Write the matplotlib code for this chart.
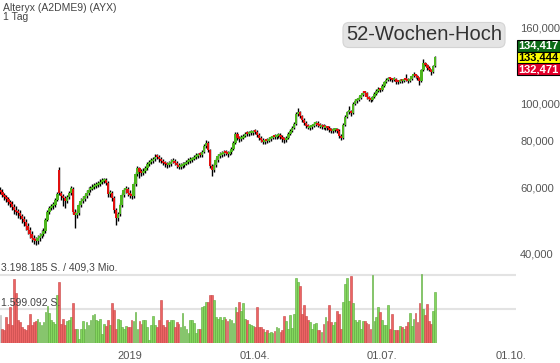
import matplotlib.pyplot as plt
import numpy as np
import pandas as pd
from matplotlib.ticker import FixedLocator, NullLocator

plt.rcParams['font.family'] = ['Liberation Sans', 'DejaVu Sans']

# daily candles, Alteryx, 01.10.2018 - 08.08.2019
opens = [59.0, 58.3, 57.2, 56.5, 55.8, 54.8, 54.1, 53.2, 52.2, 51.6,
         51.2, 50.3, 49.4, 48.5, 47.3, 46.2, 45.1, 43.9, 43.4, 43.1,
         43.9, 44.5, 45.1, 45.9, 49.1, 51.6, 52.8, 53.3, 53.8, 55.5,
         66.5, 57.9, 56.8, 56.2, 55.2, 56.5, 57.9, 59.5, 51.6, 50.6,
         51.2, 53.8, 55.2, 55.8, 56.8, 57.9, 59.0, 59.4, 60.1, 60.5,
         60.8, 61.2, 62.0, 62.3, 62.7, 61.6, 57.5, 57.9, 56.2, 52.2,
         49.7, 50.9, 53.8, 57.2, 59.0, 59.4, 57.9, 57.2, 56.8, 61.2,
         65.1, 67.5, 66.0, 65.6, 66.3, 67.5, 69.2, 69.9, 70.5, 71.3,
         72.6, 72.2, 71.3, 70.5, 69.7, 69.2, 68.8, 69.2, 70.1, 70.5,
         69.7, 68.8, 68.0, 68.4, 68.8, 69.2, 70.1, 70.5, 70.9, 71.3,
         72.2, 72.7, 73.5, 73.1, 74.4, 77.3, 78.8, 75.4, 68.4, 66.7,
         68.8, 70.9, 72.7, 73.1, 73.6, 74.4, 74.0, 73.6, 74.4, 75.9,
         78.8, 83.2, 81.2, 80.7, 81.2, 82.2, 83.6, 83.2, 83.5, 83.7,
         84.6, 84.2, 82.7, 81.2, 80.2, 79.2, 80.1, 79.7, 80.7, 81.2,
         82.1, 81.7, 82.2, 82.7, 81.7, 80.7, 80.2, 81.2, 83.2, 84.8,
         86.3, 88.4, 94.1, 95.2, 92.9, 90.6, 89.0, 87.4, 86.4, 86.8,
         87.4, 88.4, 89.0, 87.9, 87.0, 87.4, 86.4, 86.8, 86.3, 85.3,
         84.8, 85.0, 85.3, 84.8, 82.2, 81.2, 87.9, 92.4, 95.2, 95.8,
         94.6, 99.9, 101.9, 102.5, 103.7, 105.7, 107.6, 107.0, 104.4, 103.1,
         102.5, 104.4, 106.3, 108.3, 109.6, 109.0, 111.7, 114.4, 115.9, 117.2,
         116.6, 115.9, 116.6, 114.9, 114.4, 115.6, 115.1, 116.4, 115.9, 115.1,
         116.6, 118.8, 119.5, 118.8, 117.3, 115.1, 123.2, 128.6, 127.0, 124.7,
         123.2, 121.7, 126.2]
closes = [58.3, 57.2, 56.5, 55.8, 54.8, 54.1, 53.2, 52.2, 51.6, 51.2,
          50.3, 49.4, 48.5, 47.3, 46.2, 45.1, 43.9, 43.4, 43.1, 43.9,
          44.5, 45.1, 45.9, 49.1, 51.6, 52.8, 53.3, 53.8, 55.5, 57.5,
          57.9, 56.8, 56.2, 55.2, 56.5, 57.9, 59.7, 51.6, 50.6, 51.2,
          53.8, 55.2, 55.8, 56.8, 57.9, 59.0, 59.4, 60.1, 60.5, 60.8,
          61.2, 62.0, 62.3, 62.7, 61.6, 57.5, 57.9, 56.2, 52.2, 49.7,
          50.9, 53.8, 57.2, 59.0, 59.4, 57.9, 57.2, 56.8, 61.2, 65.1,
          67.5, 66.0, 65.6, 66.3, 67.5, 69.2, 69.9, 70.5, 71.3, 72.2,
          72.2, 71.3, 70.5, 69.7, 69.2, 68.8, 69.2, 70.1, 70.5, 69.7,
          68.8, 68.0, 68.4, 68.8, 69.2, 70.1, 70.5, 70.9, 71.3, 72.2,
          72.7, 73.1, 73.1, 74.4, 77.3, 78.8, 75.4, 68.4, 66.7, 68.8,
          70.9, 72.7, 73.1, 73.6, 74.4, 74.0, 73.6, 74.4, 75.9, 78.8,
          83.2, 81.2, 80.7, 81.2, 82.2, 83.2, 83.2, 83.5, 83.7, 84.2,
          84.2, 82.7, 81.2, 80.2, 79.2, 79.7, 79.7, 80.7, 81.2, 81.7,
          81.7, 82.2, 82.7, 81.7, 80.7, 80.2, 81.2, 83.2, 84.8, 86.3,
          88.4, 94.1, 95.2, 92.9, 90.6, 89.0, 87.4, 86.8, 86.8, 87.4,
          88.4, 89.0, 87.9, 87.4, 87.4, 86.8, 86.8, 86.3, 85.3, 84.8,
          85.0, 85.3, 84.8, 82.2, 81.2, 87.9, 92.4, 95.2, 95.8, 94.6,
          99.9, 101.9, 102.5, 103.7, 105.7, 107.0, 107.0, 104.4, 103.1, 102.5,
          104.4, 106.3, 108.3, 109.6, 109.0, 111.7, 114.4, 115.9, 116.6, 116.6,
          115.9, 116.6, 114.4, 114.4, 115.1, 115.1, 115.9, 115.9, 115.1, 116.6,
          118.8, 119.5, 118.8, 117.3, 115.1, 123.2, 128.6, 127.0, 124.7, 123.2,
          121.7, 126.2, 133.4]
highs = [60.0, 59.2, 58.0, 57.3, 56.4, 55.6, 55.0, 54.1, 53.3, 52.4,
         52.0, 51.0, 50.3, 49.2, 48.1, 47.0, 45.8, 44.8, 44.2, 44.6,
         45.3, 46.0, 46.8, 49.8, 52.3, 53.6, 54.2, 54.8, 56.3, 58.4,
         67.8, 58.6, 57.6, 57.0, 57.3, 58.7, 60.6, 60.2, 52.4, 52.0,
         54.5, 56.0, 56.7, 57.6, 58.8, 59.9, 60.5, 61.0, 61.4, 61.9,
         62.3, 62.9, 63.4, 63.6, 63.5, 62.3, 58.9, 58.6, 56.9, 52.9,
         51.6, 54.5, 57.9, 59.8, 60.3, 60.0, 58.8, 58.0, 61.9, 65.9,
         68.4, 68.1, 66.9, 67.3, 68.3, 70.1, 70.8, 71.6, 72.3, 73.4,
         73.5, 73.0, 72.1, 71.5, 70.6, 70.1, 70.3, 71.2, 71.6, 71.3,
         70.4, 69.6, 69.5, 69.9, 70.2, 71.0, 71.7, 72.0, 72.4, 73.1,
         73.8, 74.2, 74.6, 75.4, 78.2, 80.2, 79.9, 76.0, 69.2, 69.7,
         71.8, 73.5, 74.3, 74.8, 75.3, 75.6, 75.1, 75.6, 76.8, 79.6,
         84.1, 84.0, 82.3, 82.5, 83.3, 84.2, 84.5, 84.6, 85.0, 85.4,
         85.5, 85.0, 83.5, 82.0, 81.1, 80.8, 81.2, 81.8, 82.3, 82.9,
         83.2, 83.4, 83.9, 83.6, 82.4, 81.6, 82.3, 84.1, 85.7, 87.2,
         89.4, 95.2, 97.5, 96.0, 93.7, 91.5, 89.9, 88.3, 88.0, 88.6,
         89.5, 90.2, 89.8, 88.9, 88.5, 88.3, 87.9, 87.6, 87.2, 86.4,
         86.3, 86.5, 86.4, 85.6, 83.1, 88.8, 93.3, 96.0, 99.0, 96.6,
         100.9, 102.8, 103.6, 104.8, 106.6, 108.2, 108.6, 107.8, 105.3, 104.0,
         105.3, 107.4, 109.3, 110.8, 110.5, 112.8, 115.4, 117.0, 117.9, 118.3,
         117.4, 117.8, 117.3, 115.9, 116.3, 116.8, 117.2, 120.0, 117.0, 117.6,
         119.7, 121.5, 120.4, 119.6, 118.0, 124.2, 131.8, 129.5, 127.8, 125.9,
         124.0, 127.1, 134.4]
lows = [57.6, 56.4, 55.3, 54.9, 53.7, 53.0, 52.3, 51.0, 50.6, 49.8,
        49.2, 48.3, 47.2, 46.0, 45.0, 44.0, 42.9, 42.3, 42.0, 42.4,
        43.2, 43.8, 44.4, 45.3, 48.6, 50.8, 52.0, 52.5, 53.0, 55.0,
        57.2, 55.6, 53.5, 52.8, 54.4, 55.9, 57.3, 50.8, 46.8, 49.6,
        50.7, 53.2, 54.5, 55.1, 56.2, 57.3, 58.2, 58.8, 59.3, 59.7,
        60.0, 60.5, 61.2, 61.5, 60.7, 56.4, 56.5, 55.0, 51.3, 47.6,
        48.7, 50.3, 53.1, 56.5, 57.8, 56.9, 56.2, 55.7, 56.3, 60.5,
        64.3, 63.6, 64.3, 64.8, 65.5, 66.8, 68.5, 69.1, 69.8, 70.6,
        71.3, 70.2, 69.6, 68.7, 68.1, 67.5, 67.9, 68.5, 69.4, 68.6,
        67.6, 66.9, 67.1, 67.6, 68.0, 68.6, 69.3, 69.8, 70.1, 70.8,
        71.5, 71.9, 72.0, 72.4, 73.8, 76.4, 74.5, 67.5, 64.2, 65.9,
        68.1, 70.2, 71.6, 72.1, 72.8, 72.9, 72.4, 72.9, 73.7, 75.3,
        78.2, 80.2, 79.4, 79.8, 80.5, 81.4, 82.1, 82.3, 82.6, 82.9,
        83.1, 81.6, 80.1, 79.0, 78.0, 78.3, 78.6, 79.0, 79.8, 80.4,
        80.6, 80.8, 81.2, 80.5, 79.4, 78.9, 79.4, 80.6, 82.5, 84.0,
        85.6, 87.8, 93.0, 91.8, 89.4, 87.8, 86.3, 85.5, 85.2, 85.9,
        86.6, 87.6, 86.8, 86.2, 85.8, 85.6, 85.2, 85.0, 84.1, 83.6,
        83.8, 84.0, 83.5, 81.3, 80.0, 80.6, 87.2, 91.6, 94.3, 92.9,
        94.0, 99.1, 100.7, 101.6, 102.9, 104.8, 105.8, 103.2, 101.8, 101.2,
        101.8, 103.6, 105.5, 107.4, 107.8, 108.3, 111.0, 113.5, 115.0, 115.2,
        114.6, 115.0, 113.3, 113.1, 113.5, 114.0, 114.3, 114.8, 113.9, 114.5,
        115.9, 117.9, 117.6, 115.9, 112.0, 114.6, 122.6, 125.9, 123.4, 122.1,
        119.7, 121.0, 125.6]
# volume in million shares
volume_mio = [1.31, 0.68, 0.60, 1.23, 0.90, 1.70, 0.83, 3.01, 2.33, 1.10,
              0.99, 0.76, 0.68, 0.60, 0.85, 1.35, 0.83, 0.99, 1.04, 1.15,
              0.99, 0.83, 1.00, 1.46, 1.73, 1.39, 1.07, 0.99, 0.91, 2.25,
              2.85, 0.91, 1.15, 0.83, 1.04, 1.07, 1.20, 1.86, 0.68, 0.68,
              0.20, 0.68, 1.04, 0.68, 0.99, 0.83, 1.07, 1.31, 1.35, 1.10,
              1.04, 1.15, 0.41, 0.91, 0.79, 1.07, 0.87, 1.89, 1.57, 0.68,
              1.15, 1.10, 0.76, 0.68, 0.80, 0.76, 0.76, 1.07, 1.04, 1.46,
              0.68, 1.04, 0.91, 1.10, 1.10, 0.76, 0.13, 0.83, 1.26, 0.83,
              0.76, 1.10, 2.02, 0.83, 0.76, 1.10, 0.99, 1.07, 1.07, 0.76,
              0.99, 0.91, 0.76, 1.42, 0.79, 0.68, 0.47, 1.10, 1.07, 0.95,
              0.47, 0.68, 0.68, 1.70, 1.73, 1.94, 1.91, 2.24, 2.24, 2.02,
              1.23, 1.15, 1.20, 1.10, 1.20, 1.15, 1.04, 1.15, 1.10, 0.95,
              1.70, 1.46, 1.92, 1.51, 1.86, 1.15, 1.07, 0.91, 0.83, 0.79,
              0.76, 1.70, 0.76, 0.76, 0.68, 0.52, 0.60, 0.47, 0.52, 0.47,
              0.57, 0.76, 0.70, 0.52, 0.60, 1.26, 1.02, 0.68, 1.31, 0.72,
              1.35, 3.04, 2.87, 2.69, 1.35, 1.81, 1.26, 1.07, 0.99, 0.68,
              0.88, 0.96, 0.60, 0.60, 0.52, 0.91, 1.20, 1.04, 1.81, 0.99,
              0.83, 0.99, 1.51, 1.35, 0.68, 1.94, 2.77, 3.04, 1.98, 3.15,
              1.86, 1.10, 0.99, 1.07, 0.68, 1.04, 1.04, 0.95, 0.91, 0.68,
              3.20, 1.04, 1.23, 1.67, 1.46, 1.10, 0.83, 0.87, 1.78, 0.68,
              1.35, 0.63, 0.60, 0.60, 0.80, 0.76, 0.68, 0.79, 0.99, 1.39,
              0.79, 1.15, 1.39, 0.99, 1.89, 3.24, 1.60, 1.31, 1.83, 1.02,
              0.90, 1.50, 2.38]

price_ticks = [40, 60, 80, 100, 160]
price_tick_labels = ['40,000', '60,000', '80,000', '100,000', '160,000']
date_ticks = ['2019-01-01', '2019-04-01', '2019-07-01', '2019-10-01']
date_tick_labels = ['2019', '01.04.', '01.07.', '01.10.']
vol_levels = [3.198185, 1.599092]
vol_level_labels = ['3.198.185 S. / 409,3 Mio.', '1.599.092 S.']
quotes = ['134,417', '133,444', '132,471']

o = np.array(opens)
c = np.array(closes)
h = np.array(highs)
l = np.array(lows)
v = np.array(volume_mio)
x = np.arange(len(c))

# trading-day axis
all_days = pd.bdate_range('2018-10-01', '2019-10-01')
tick_pos = all_days.get_indexer(pd.to_datetime(date_ticks))

up = c >= o
green, red = '#4db51f', '#e0100f'
W, H = 560, 363
fig = plt.figure(figsize=(W / 100, H / 100), dpi=100)
pw = 516 / W
ax = fig.add_axes([0, 1 - 262 / H, pw, 262 / H])
axv = fig.add_axes([0, 20 / H, pw, 81 / H])

# candles
ax.vlines(x, l, h, color='black', lw=1.0, zorder=1)
body_lo = np.minimum(o, c)
body_h = np.maximum(np.abs(c - o), 0.012 * c)
ax.bar(x, body_h, bottom=body_lo, width=1.35,
       color=np.where(up, green, red), zorder=2)
ax.set_yscale('log')
ax.set_ylim(37.9, 189.3)
ax.set_xlim(-0.2, 263.3)
ax.yaxis.set_major_locator(FixedLocator(price_ticks))
ax.yaxis.set_minor_locator(NullLocator())
ax.set_yticklabels(price_tick_labels)
ax.yaxis.tick_right()
ax.tick_params(axis='y', length=0, pad=3, labelsize=8, labelcolor='#555555')
ax.set_xticks([])
for s in ax.spines.values():
    s.set_visible(False)

# volume
vcol = np.where(up, '#84d65e', '#ec6464').astype(object)
ecol = np.where(up, '#5aa83a', '#c84444').astype(object)
vcol[0], ecol[0] = '#cccccc', '#bbbbbb'
for lv in vol_levels:
    axv.axhline(lv, color='#e3e3e3', lw=1.5, zorder=0)
axv.bar(x, v, width=0.9, color=vcol, edgecolor=ecol, lw=0.4, zorder=2)
axv.set_ylim(0, 3.81)
axv.set_xlim(-0.2, 263.3)
axv.set_yticks([])
axv.set_xticks(tick_pos)
axv.set_xticklabels(date_tick_labels)
axv.tick_params(axis='x', length=0, pad=6, labelsize=8, labelcolor='#555555')
for s in axv.spines.values():
    s.set_visible(False)

for lv, txt, yp in zip(vol_levels, vol_level_labels, [268, 303]):
    fig.text(1 / W, 1 - yp / H, txt, fontsize=7.5, color='#444444', va='center', zorder=5)

# header
fig.text(3 / W, 1 - 8 / H, 'Alteryx (A2DME9) (AYX)', fontsize=7.5, color='#444444', va='center')
fig.text(3 / W, 1 - 17 / H, '1 Tag', fontsize=7.5, color='#444444', va='center')
fig.text(424 / W, 1 - 35 / H, '52-Wochen-Hoch', fontsize=14.5, color='#333333',
         ha='center', va='center',
         bbox=dict(boxstyle='round,pad=0.15,rounding_size=0.3', fc='#e4e4e4', ec='#d4d4d4', lw=0.8))

# quote boxes
box_styles = [('#0b6b16', 'white'), ('#ffff00', 'black'), ('#e3002b', 'white')]
for q, (bg, fg), yp in zip(quotes, box_styles, [46, 58, 69]):
    fig.text(518 / W, 1 - yp / H, q, fontsize=8, fontweight='bold', color=fg, va='center',
             bbox=dict(boxstyle='square,pad=0.12', fc=bg, ec='black', lw=0.8))

fig.savefig('out.png', dpi=100)
